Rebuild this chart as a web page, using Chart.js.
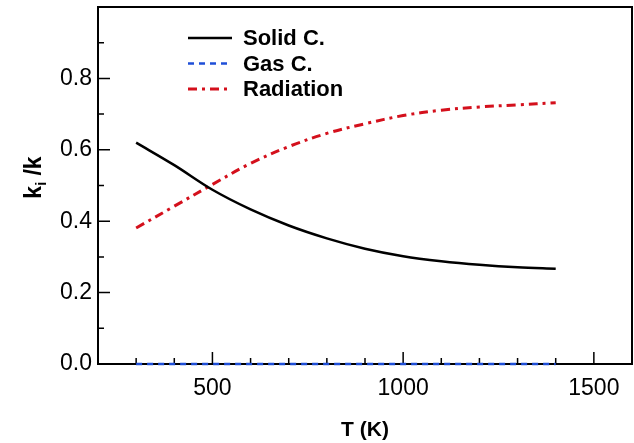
<!DOCTYPE html>
<html>
<head>
<meta charset="utf-8">
<script src="https://cdn.jsdelivr.net/npm/chart.js@4"></script>
<style>
  html, body { margin: 0; padding: 0; background: #fff; }
  #wrap { width: 634px; height: 443px; }
</style>
</head>
<body>
<div id="wrap"><canvas id="kChart" width="634" height="443"></canvas></div>
<script>
// temperatures (K)
const temps = [300, 400, 500, 600, 700, 800, 900, 1000, 1100, 1200, 1300, 1400];
// k_i / k for each contribution
const solidC = [0.620, 0.557, 0.488, 0.433, 0.388, 0.352, 0.323, 0.302, 0.288, 0.278, 0.271, 0.267];
const gasC = [0, 0, 0, 0, 0, 0, 0, 0, 0, 0, 0, 0];
const radiation = [0.381, 0.442, 0.503, 0.562, 0.609, 0.646, 0.673, 0.696, 0.711, 0.720, 0.726, 0.732];
const xTickLabels = [500, 1000, 1500];
const yTickLabels = [0.0, 0.2, 0.4, 0.6, 0.8];

const FONT = '"Liberation Sans", Arial, sans-serif';

function pts(ys) {
  return temps.map((t, i) => ({ x: t, y: ys[i] }));
}

// frame, inward tick marks, y title with subscript, legend
const framePlugin = {
  id: 'frame',
  beforeDatasetsDraw(chart) {
    const { ctx, chartArea: a, scales: { x, y } } = chart;
    ctx.save();
    ctx.strokeStyle = '#000';
    ctx.lineWidth = 2;
    ctx.strokeRect(a.left, a.top, a.right - a.left, a.bottom - a.top);
    ctx.lineWidth = 1.5;
    ctx.beginPath();
    for (let v = x.min; v <= x.max; v += 100) {
      const px = x.getPixelForValue(v);
      const len = xTickLabels.includes(v) ? 12 : 6;
      ctx.moveTo(px, a.bottom);
      ctx.lineTo(px, a.bottom - len);
    }
    for (let k = 0; k <= 10; k++) {
      const py = y.getPixelForValue(k / 10);
      const major = k % 2 === 0;
      ctx.moveTo(a.left, py);
      ctx.lineTo(a.left + (major ? 12 : 6), py);
    }
    ctx.stroke();
    ctx.restore();
  },
  afterDraw(chart) {
    const { ctx, chartArea: a } = chart;
    ctx.save();
    // y axis title: k_i /k
    ctx.translate(33, (a.top + a.bottom) / 2 - 8);
    ctx.rotate(-Math.PI / 2);
    ctx.fillStyle = '#000';
    ctx.textBaseline = 'alphabetic';
    const big = 'bold 23px ' + FONT, small = 'bold 14px ' + FONT;
    ctx.font = big;
    const w1 = ctx.measureText('k').width;
    ctx.font = small;
    const w2 = ctx.measureText('i').width;
    ctx.font = big;
    const w3 = ctx.measureText(' /k').width;
    const sx = -(w1 + w2 + w3) / 2;
    ctx.fillText('k', sx, 8);
    ctx.font = small;
    ctx.fillText('i', sx + w1, 13);
    ctx.font = big;
    ctx.fillText(' /k', sx + w1 + w2, 8);
    ctx.restore();

    // legend
    ctx.save();
    ctx.font = 'bold 22px ' + FONT;
    ctx.textBaseline = 'middle';
    ctx.fillStyle = '#000';
    chart.data.datasets.forEach((ds, i) => {
      const ly = 38 + i * 25.5;
      ctx.strokeStyle = ds.borderColor;
      ctx.lineWidth = ds.borderWidth;
      ctx.setLineDash(ds.borderDash || []);
      ctx.beginPath();
      ctx.moveTo(188, ly);
      ctx.lineTo(232, ly);
      ctx.stroke();
      ctx.setLineDash([]);
      ctx.fillText(ds.label, 243, ly + 1);
    });
    ctx.restore();
  }
};

new Chart(document.getElementById('kChart'), {
  type: 'line',
  data: {
    datasets: [
      {
        label: 'Solid C.',
        data: pts(solidC),
        borderColor: '#000000',
        borderWidth: 2.5,
        tension: 0.35
      },
      {
        label: 'Gas C.',
        data: pts(gasC),
        borderColor: '#1f4fd8',
        borderWidth: 2.5,
        borderDash: [6, 5]
      },
      {
        label: 'Radiation',
        data: pts(radiation),
        borderColor: '#d4101c',
        borderWidth: 3,
        borderDash: [9, 5, 3, 5],
        tension: 0.35
      }
    ]
  },
  options: {
    responsive: false,
    animation: false,
    clip: false,
    elements: { point: { radius: 0 } },
    layout: { padding: { left: 0, right: 2, top: 7, bottom: 0 } },
    plugins: {
      legend: { display: false },
      tooltip: { enabled: false }
    },
    scales: {
      x: {
        type: 'linear',
        min: 200,
        max: 1600,
        afterFit(s) {
          s.height = 79;
          s.paddingLeft = 0;
          s.paddingRight = 0;
        },
        afterBuildTicks(s) { s.ticks = xTickLabels.map(v => ({ value: v })); },
        grid: { display: false, drawTicks: false },
        border: { display: false },
        ticks: {
          color: '#000',
          padding: 11,
          maxRotation: 0,
          callback: v => String(v),
          font: { family: FONT, size: 23 }
        },
        title: {
          display: true,
          text: 'T (K)',
          color: '#000',
          padding: { top: 0, bottom: 0 },
          font: { family: FONT, size: 21, weight: 'bold' }
        }
      },
      y: {
        min: 0,
        max: 1.0,
        afterFit(s) {
          s.width = 98;
          s.paddingTop = 0;
          s.paddingBottom = 0;
        },
        afterBuildTicks(s) { s.ticks = yTickLabels.map(v => ({ value: v })); },
        grid: { display: false, drawTicks: false },
        border: { display: false },
        ticks: {
          color: '#000',
          padding: 6,
          callback: v => v.toFixed(1),
          font: { family: FONT, size: 23 }
        }
      }
    }
  },
  plugins: [framePlugin]
});
</script>
</body>
</html>
